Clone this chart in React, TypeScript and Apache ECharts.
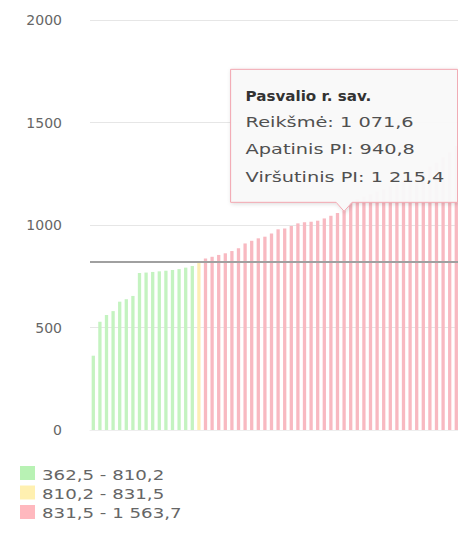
import React, { useEffect, useRef } from "react";
import * as echarts from "echarts";

// 60 municipalities, sorted by value; only the highlighted one is named in the picture
const categories: string[] = [
  "1", "2", "3", "4", "5", "6", "7", "8", "9", "10",
  "11", "12", "13", "14", "15", "16", "17", "18", "19", "20",
  "21", "22", "23", "24", "25", "26", "27", "28", "29", "30",
  "31", "32", "33", "34", "35", "36", "37", "38", "Pasvalio r. sav.", "40",
  "41", "42", "43", "44", "45", "46", "47", "48", "49", "50",
  "51", "52", "53", "54", "55", "56", "57", "58", "59", "60",
];

const values: number[] = [
  362.5, 528, 561, 580, 626, 638, 654, 766, 768, 771,
  774, 777, 780, 785, 792, 800, 821, 837, 845, 854,
  862, 873, 886, 910, 923, 935, 943, 959, 979, 983,
  995, 1008, 1013, 1016, 1021, 1032, 1045, 1058, 1071.6, 1112,
  1125, 1138, 1150, 1162, 1175, 1188, 1200, 1215, 1230, 1248,
  1265, 1285, 1305, 1330, 1355, 1385, 1420, 1460, 1510, 1563.7,
];

const referenceValue = 820;
const lowerBreak = 810.2;
const upperBreak = 831.5;

const legendLabels: string[] = ["362,5 - 810,2", "810,2 - 831,5", "831,5 - 1 563,7"];
const legendColors: string[] = ["#b8f2b4", "#fff0b0", "#ffb8be"];
const barColors: string[] = ["#c4f3c0", "#fdeeb4", "#f8b9c1"];

const yTicks = { min: 0, max: 2000, interval: 500 };

const highlightIndex = 38;
const tooltipTitle = "Pasvalio r. sav.";
const tooltipLines: string[] = ["Reikšmė: 1 071,6", "Apatinis PI: 940,8", "Viršutinis PI: 1 215,4"];

const FONT = "DejaVu Sans";

export default function App() {
  const ref = useRef<HTMLDivElement>(null);

  useEffect(() => {
    if (!ref.current) return;
    const chart = echarts.init(ref.current, undefined, { renderer: "svg" });
    chart.setOption({
      animation: false,
      grid: { left: 90, right: 0, top: 20, bottom: 106, containLabel: false },
      xAxis: {
        type: "category",
        data: categories,
        axisLabel: { show: false },
        axisTick: { show: false },
        axisLine: { show: true, lineStyle: { color: "#eeeeee" } },
      },
      yAxis: {
        type: "value",
        min: yTicks.min,
        max: yTicks.max,
        interval: yTicks.interval,
        axisLabel: {
          color: "#666666",
          fontSize: 14,
          fontFamily: FONT,
          margin: 28,
          formatter: (v: number) => String(v),
        },
        splitLine: { lineStyle: { color: "#e6e6e6", width: 1 } },
        axisLine: { show: false },
        axisTick: { show: false },
      },
      series: [
        {
          type: "bar",
          data: values,
          barCategoryGap: "50%",
          itemStyle: {
            color: (p: any) =>
              p.value < lowerBreak ? barColors[0] : p.value <= upperBreak ? barColors[1] : barColors[2],
          },
          markLine: {
            silent: true,
            symbol: "none",
            label: { show: false },
            lineStyle: { color: "#a0a0a0", width: 2, type: "solid" },
            data: [{ yAxis: referenceValue }],
          },
        },
      ],
    });

    const [px, py] = chart.convertToPixel({ gridIndex: 0 }, [highlightIndex, values[highlightIndex]]) as number[];
    const boxW = 227;
    const boxH = 133;
    const tipY = py + 1;
    const yb = tipY - 9;
    const y0 = yb - boxH;
    const x0 = px - boxW / 2;
    const x1 = x0 + boxW;
    const lineOffsets = [53, 80, 108];

    const graphics: any[] = [
      {
        type: "polygon",
        z: 100,
        shape: {
          points: [
            [x0, y0], [x1, y0], [x1, yb], [px + 8, yb], [px, tipY], [px - 8, yb], [x0, yb],
          ],
        },
        style: {
          fill: "rgba(249,249,249,0.96)",
          stroke: "#f2a6b0",
          lineWidth: 1,
          shadowBlur: 4,
          shadowColor: "rgba(0,0,0,0.15)",
          shadowOffsetX: 1,
          shadowOffsetY: 1,
        },
      },
      {
        type: "text",
        z: 101,
        x: x0 + 15,
        y: y0 + 26,
        scaleX: 1.08,
        style: { text: tooltipTitle, fontSize: 14, fontWeight: "bold", fontFamily: FONT, fill: "#333333", verticalAlign: "middle", align: "left" },
      },
      ...tooltipLines.map((t, i) => ({
        type: "text",
        z: 101,
        x: x0 + 15,
        y: y0 + lineOffsets[i],
        scaleX: 1.38,
        style: { text: t, fontSize: 14, fontFamily: FONT, fill: "#505050", verticalAlign: "middle", align: "left" },
      })),
      ...legendLabels.map((t, i) => ({
        type: "rect",
        shape: { x: 20, y: 466 + i * 19.5, width: 15, height: 14 },
        style: { fill: legendColors[i] },
      })),
      ...legendLabels.map((t, i) => ({
        type: "text",
        x: 42,
        y: 475 + i * 19,
        scaleX: 1.3,
        style: { text: t, fontSize: 14, fontFamily: FONT, fill: "#666666", verticalAlign: "middle", align: "left" },
      })),
    ];
    chart.setOption({ graphic: graphics });

    return () => chart.dispose();
  }, []);

  return (
    <div style={{ position: "absolute", left: 0, top: 0, width: 458, height: 536, overflow: "hidden" }}>
      <div ref={ref} style={{ width: 486, height: 536 }} />
    </div>
  );
}
